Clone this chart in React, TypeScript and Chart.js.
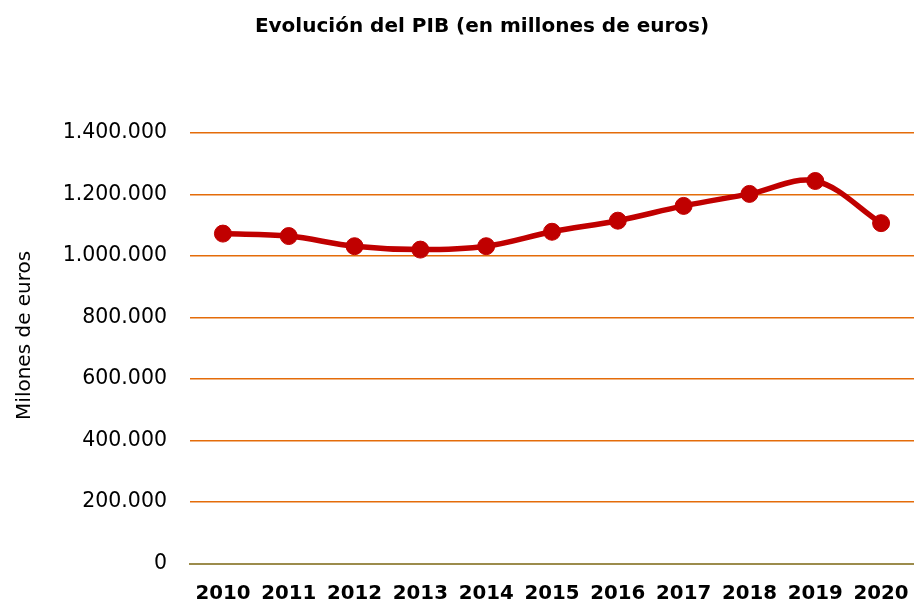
import React, { useEffect, useRef } from "react";
import { Chart, registerables } from "chart.js";

Chart.register(...registerables);

const years = ["2010", "2011", "2012", "2013", "2014", "2015", "2016", "2017", "2018", "2019", "2020"];
const pib = [1073000, 1065000, 1032000, 1021000, 1032000, 1079000, 1115000, 1163000, 1202000, 1244000, 1107000];
const yMin = 0;
const yMax = 1400000;
const yStep = 200000;
const titleText = "Evolución del PIB (en millones de euros)";
const yTitle = "Milones de euros";

function fmt(v: number): string {
  return String(Math.round(v)).replace(/\B(?=(\d{3})+(?!\d))/g, ".");
}

// Vertical axis title, drawn rotated beside the plot area.
const yAxisTitle = {
  id: "yAxisTitle",
  afterDraw(chart: any) {
    const ca = chart.chartArea;
    const ctx = chart.ctx;
    ctx.save();
    ctx.font = "20px 'DejaVu Sans', Verdana, sans-serif";
    ctx.fillStyle = "#000000";
    ctx.translate(30, (ca.top + ca.bottom) / 2 - 13);
    ctx.rotate(-Math.PI / 2);
    ctx.textAlign = "center";
    ctx.textBaseline = "alphabetic";
    ctx.fillText(yTitle, 0, 0);
    ctx.restore();
  },
};

export default function App() {
  const ref = useRef<HTMLCanvasElement | null>(null);
  useEffect(() => {
    if (!ref.current) return;
    const chart = new Chart(ref.current, {
      type: "line",
      data: {
        labels: years,
        datasets: [
          {
            data: pib,
            borderColor: "#C00000",
            backgroundColor: "#C00000",
            borderWidth: 5.5,
            pointRadius: 8.5,
            pointHoverRadius: 8.5,
            pointBackgroundColor: "#C00000",
            pointBorderColor: "#C00000",
            pointBorderWidth: 1,
            tension: 0.35,
            fill: false,
          },
        ],
      },
      plugins: [yAxisTitle],
      options: {
        responsive: false,
        animation: false,
        layout: { autoPadding: false, padding: { top: 0, left: 50, right: 0, bottom: 0 } },
        plugins: {
          legend: { display: false },
          tooltip: { enabled: false },
          title: {
            display: true,
            text: titleText,
            color: "#000000",
            font: { family: "'DejaVu Sans', Verdana, sans-serif", size: 20, weight: "bold" },
            padding: { top: 15, bottom: 94 },
          },
        },
        scales: {
          x: {
            type: "category",
            offset: true,
            grid: {
              display: true,
              drawOnChartArea: false,
              drawTicks: true,
              tickLength: 18,
              color: "rgba(0,0,0,0)",
            },
            border: { display: true, color: "#9C8C4C", width: 2 },
            ticks: {
              color: "#000000",
              padding: 0,
              maxRotation: 0,
              autoSkip: false,
              font: { family: "'DejaVu Sans', Verdana, sans-serif", size: 19.8, weight: "bold" },
            },
            afterFit: (scale: any) => {
              scale.height = 38.3;
              scale.paddingLeft = 0;
              scale.paddingRight = 0;
            },
          },
          y: {
            min: yMin,
            max: yMax,
            grid: {
              color: (ctx: any) => (ctx.tick && ctx.tick.value === 0 ? "rgba(0,0,0,0)" : "#E46C0A"),
              lineWidth: 1.6,
              drawTicks: false,
            },
            border: { display: false },
            ticks: {
              stepSize: yStep,
              color: "#000000",
              padding: 23,
              font: { family: "'DejaVu Sans', Verdana, sans-serif", size: 20.5 },
              callback: (v: any) => fmt(Number(v)),
            },
            afterFit: (scale: any) => {
              scale.width = 140;
            },
          },
        },
      },
    });
    return () => chart.destroy();
  }, []);
  return (
    <canvas
      ref={ref}
      width={914}
      height={602}
      style={{ position: "absolute", left: 0, top: 0, display: "block", background: "#ffffff" }}
    />
  );
}
